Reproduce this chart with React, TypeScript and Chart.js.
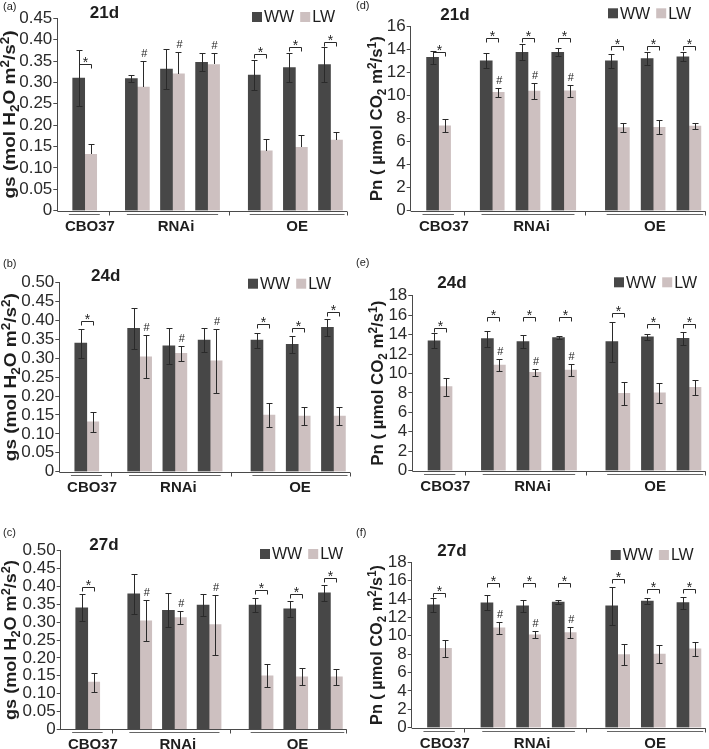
import React, { useEffect, useRef } from 'react';
import { Chart, registerables } from 'chart.js';

Chart.register(...registerables);

const FONT = '"Liberation Sans", Arial, Helvetica, sans-serif';

// ---------- data ----------
const groups = ['CBO37', 'RNAi', 'OE'];
const series = ['WW', 'LW'];
const lines = ['CBO37', 'RNAi-1', 'RNAi-2', 'RNAi-3', 'OE-1', 'OE-2', 'OE-3'];

// gs, 21 d
const gs21WW = [0.31, 0.309, 0.331, 0.347, 0.317, 0.335, 0.342];
const gs21WWErr = [0.066, 0.008, 0.047, 0.021, 0.035, 0.034, 0.042];
const gs21LW = [0.132, 0.289, 0.32, 0.342, 0.14, 0.148, 0.165];
const gs21LWErr = [0.023, 0.061, 0.051, 0.027, 0.027, 0.03, 0.02];
const gs21Star = [0.342, null, null, null, 0.367, 0.384, 0.395];

// gs, 24 d
const gs24WW = [0.34, 0.379, 0.333, 0.348, 0.348, 0.337, 0.382];
const gs24WWErr = [0.038, 0.055, 0.048, 0.032, 0.02, 0.023, 0.022];
const gs24LW = [0.132, 0.304, 0.313, 0.293, 0.15, 0.147, 0.147];
const gs24LWErr = [0.027, 0.057, 0.019, 0.084, 0.032, 0.024, 0.023];
const gs24Star = [0.399, null, null, null, 0.391, 0.379, 0.423];

// gs, 27 d
const gs27WW = [0.34, 0.379, 0.333, 0.348, 0.348, 0.337, 0.382];
const gs27WWErr = [0.038, 0.055, 0.048, 0.032, 0.02, 0.023, 0.022];
const gs27LW = [0.132, 0.304, 0.313, 0.293, 0.15, 0.147, 0.147];
const gs27LWErr = [0.027, 0.057, 0.019, 0.084, 0.032, 0.024, 0.023];
const gs27Star = [0.399, null, null, null, 0.391, 0.379, 0.423];

// Pn, 21 d
const pn21WW = [13.33, 13.04, 13.77, 13.77, 13.04, 13.22, 13.39];
const pn21WWErr = [0.58, 0.63, 0.7, 0.35, 0.6, 0.55, 0.4];
const pn21LW = [7.39, 10.29, 10.41, 10.43, 7.22, 7.25, 7.36];
const pn21LWErr = [0.58, 0.42, 0.68, 0.5, 0.38, 0.6, 0.29];
const pn21Star = [13.77, 15.04, 15.04, 15.04, 14.35, 14.35, 14.35];

// Pn, 24 d
const pn24WW = [13.37, 13.58, 13.27, 13.68, 13.27, 13.78, 13.61];
const pn24WWErr = [0.77, 0.82, 0.68, 0.17, 2.05, 0.3, 0.66];
const pn24LW = [8.64, 10.87, 10.11, 10.35, 7.95, 8.02, 8.57];
const pn24LWErr = [0.94, 0.63, 0.39, 0.63, 1.15, 1.03, 0.77];
const pn24Star = [14.64, 15.77, 15.77, 15.77, 16.18, 15.08, 15.08];

// Pn, 27 d
const pn27WW = [13.37, 13.58, 13.27, 13.68, 13.27, 13.78, 13.61];
const pn27WWErr = [0.77, 0.82, 0.68, 0.17, 2.05, 0.3, 0.66];
const pn27LW = [8.64, 10.87, 10.11, 10.35, 7.95, 8.02, 8.57];
const pn27LWErr = [0.94, 0.63, 0.39, 0.63, 1.15, 1.03, 0.77];
const pn27Star = [14.64, 15.77, 15.77, 15.77, 16.18, 15.08, 15.08];

// "#" marks above LW bars (RNAi lines)
const hashMarks = [false, true, true, true, false, false, false];

// ---------- layout (not data) ----------
const pairPos = [0, 1.5, 2.5, 3.5, 5, 6, 7];
const groupLabelPos = [0.15, 2.6, 6.05];
const groupLines = [[-0.45, 0.43], [1.2, 3.8], [4.7, 7.4]];
const groupSeparators = [0.7, 4.1];
const X_MIN = -0.78;
const X_MAX = 7.47;

const WW_COLOR = '#474747';
const LW_COLOR = '#cdc0c0';
const INK = '#1e1e1e';
const AXIS = '#4a4a4a';

type Seg = [string, 'n' | 'sub' | 'sup'];
const gsTitle: Seg[] = [['gs (mol H', 'n'], ['2', 'sub'], ['O m', 'n'], ['2', 'sup'], ['/s', 'n'], ['2', 'sup'], [')', 'n']];
const pnTitle: Seg[] = [['Pn ( µmol CO', 'n'], ['2', 'sub'], [' m', 'n'], ['2', 'sup'], ['/s', 'n'], ['1', 'sup'], [')', 'n']];

interface PanelCfg {
  label: string; day: string;
  left: number; top: number; w: number; h: number;
  L: number; T: number; R: number; B: number;
  yMax: number; yStep: number; decimals: number;
  title: Seg[]; titleLen: number; yTitleX: number;
  dayX: number; dayY: number; labelY: number;
  legX: number; legY: number;
  ww: number[]; wwErr: number[]; lw: number[]; lwErr: number[];
  star: (number | null)[]; lwLower: boolean;
}

const PANELS: PanelCfg[] = [
  { label: '(a)', day: '21d', left: 0, top: 0, w: 354, h: 248, L: 57.3, T: 18.3, R: 347, B: 210.7,
    yMax: 0.45, yStep: 0.05, decimals: 2, title: gsTitle, titleLen: 168, yTitleX: 15,
    dayX: 104.5, dayY: 13, labelY: 7, legX: 252, legY: 17,
    ww: gs21WW, wwErr: gs21WWErr, lw: gs21LW, lwErr: gs21LWErr, star: gs21Star, lwLower: false },
  { label: '(b)', day: '24d', left: 0, top: 248, w: 354, h: 250, L: 59.3, T: 282.7, R: 350, B: 471.7,
    yMax: 0.5, yStep: 0.05, decimals: 2, title: gsTitle, titleLen: 168, yTitleX: 16,
    dayX: 105.7, dayY: 276, labelY: 264, legX: 248, legY: 283.7,
    ww: gs24WW, wwErr: gs24WWErr, lw: gs24LW, lwErr: gs24LWErr, star: gs24Star, lwLower: true },
  { label: '(c)', day: '27d', left: 0, top: 498, w: 354, h: 251, L: 60.7, T: 550.7, R: 346.7, B: 729.3,
    yMax: 0.5, yStep: 0.05, decimals: 2, title: gsTitle, titleLen: 160, yTitleX: 16,
    dayX: 104, dayY: 545, labelY: 533, legX: 260, legY: 554,
    ww: gs27WW, wwErr: gs27WWErr, lw: gs27LW, lwErr: gs27LWErr, star: gs27Star, lwLower: true },
  { label: '(d)', day: '21d', left: 354, top: 0, w: 355, h: 248, L: 410.7, T: 26.7, R: 705.7, B: 210.7,
    yMax: 16, yStep: 2, decimals: 0, title: pnTitle, titleLen: 165, yTitleX: 382,
    dayX: 455, dayY: 15, labelY: 6, legX: 608, legY: 13.3,
    ww: pn21WW, wwErr: pn21WWErr, lw: pn21LW, lwErr: pn21LWErr, star: pn21Star, lwLower: true },
  { label: '(e)', day: '24d', left: 354, top: 248, w: 355, h: 250, L: 412.3, T: 295.7, R: 705.7, B: 470.7,
    yMax: 18, yStep: 2, decimals: 0, title: pnTitle, titleLen: 165, yTitleX: 382.5,
    dayX: 452, dayY: 283, labelY: 263, legX: 614, legY: 282.3,
    ww: pn24WW, wwErr: pn24WWErr, lw: pn24LW, lwErr: pn24LWErr, star: pn24Star, lwLower: true },
  { label: '(f)', day: '27d', left: 354, top: 498, w: 355, h: 251, L: 411.7, T: 562.3, R: 705.7, B: 727.7,
    yMax: 18, yStep: 2, decimals: 0, title: pnTitle, titleLen: 160, yTitleX: 382,
    dayX: 452, dayY: 551.7, labelY: 533, legX: 610.7, legY: 555,
    ww: pn27WW, wwErr: pn27WWErr, lw: pn27LW, lwErr: pn27LWErr, star: pn27Star, lwLower: true },
];

function Panel({ cfg }: { cfg: PanelCfg }) {
  const ref = useRef<HTMLCanvasElement | null>(null);

  useEffect(() => {
    const canvas = ref.current;
    if (!canvas) return;
    const ox = cfg.left;
    const oy = cfg.top;

    const overlay = {
      id: 'overlay' + cfg.label,
      afterDatasetsDraw(chart: any) {
        const ctx = chart.ctx as CanvasRenderingContext2D;
        const ys = chart.scales.y;
        const m0 = chart.getDatasetMeta(0);
        const m1 = chart.getDatasetMeta(1);
        ctx.save();
        ctx.strokeStyle = '#2a2a2a';
        ctx.lineWidth = 1;
        const drawErr = (meta: any, vals: number[], errs: number[], lower: boolean) => {
          vals.forEach((v, j) => {
            const el = meta.data[j];
            if (!el) return;
            const x = Math.round(el.x) + 0.5;
            const yt = Math.round(ys.getPixelForValue(v + errs[j])) + 0.5;
            const yb = lower ? Math.round(ys.getPixelForValue(v - errs[j])) + 0.5 : Math.round(el.y);
            ctx.beginPath();
            ctx.moveTo(x, yt); ctx.lineTo(x, yb);
            ctx.moveTo(x - 3, yt); ctx.lineTo(x + 3, yt);
            if (lower) { ctx.moveTo(x - 3, yb); ctx.lineTo(x + 3, yb); }
            ctx.stroke();
          });
        };
        drawErr(m0, cfg.ww, cfg.wwErr, true);
        drawErr(m1, cfg.lw, cfg.lwErr, cfg.lwLower);

        // significance brackets with *
        ctx.fillStyle = INK;
        cfg.star.forEach((s, j) => {
          if (s === null || s === undefined) return;
          const a = m0.data[j], b = m1.data[j];
          const y = Math.round(ys.getPixelForValue(s)) + 0.5;
          const x1 = Math.round(a.x) + 0.5, x2 = Math.round(b.x) + 0.5;
          ctx.beginPath();
          ctx.moveTo(x1, y + 4); ctx.lineTo(x1, y); ctx.lineTo(x2, y); ctx.lineTo(x2, y + 4);
          ctx.stroke();
          ctx.font = `14px ${FONT}`;
          ctx.textAlign = 'center';
          ctx.textBaseline = 'alphabetic';
          ctx.fillText('*', (x1 + x2) / 2, y + 2);
        });
        // # marks above LW bars
        hashMarks.forEach((h, j) => {
          if (!h) return;
          const b = m1.data[j];
          const yt = ys.getPixelForValue(cfg.lw[j] + cfg.lwErr[j]);
          ctx.font = `11px ${FONT}`;
          ctx.textAlign = 'center';
          ctx.textBaseline = 'alphabetic';
          ctx.fillText('#', b.x + 1, yt - 4);
        });
        ctx.restore();
      },
      afterDraw(chart: any) {
        const ctx = chart.ctx as CanvasRenderingContext2D;
        const xs = chart.scales.x;
        const ca = chart.chartArea;
        ctx.save();
        // x axis line and ticks
        ctx.strokeStyle = AXIS;
        ctx.lineWidth = 1;
        const yb = Math.round(ca.bottom) + 0.5;
        ctx.beginPath();
        ctx.moveTo(ca.left, yb); ctx.lineTo(ca.right, yb);
        [...groupSeparators.map((p) => xs.getPixelForValue(p)), ca.right - 0.5].forEach((px) => {
          const x = Math.round(px) + 0.5;
          ctx.moveTo(x, yb); ctx.lineTo(x, yb + 4);
        });
        ctx.stroke();
        // group underlines
        ctx.strokeStyle = '#666';
        ctx.beginPath();
        groupLines.forEach(([a, b]) => {
          const x1 = xs.getPixelForValue(a);
          const x2 = Math.min(xs.getPixelForValue(b), ca.right - 1);
          ctx.moveTo(x1, yb + 3); ctx.lineTo(x2, yb + 3);
        });
        ctx.stroke();
        // group labels
        ctx.fillStyle = INK;
        ctx.font = `bold 15px ${FONT}`;
        ctx.textAlign = 'center';
        ctx.textBaseline = 'middle';
        groups.forEach((g, i) => {
          ctx.fillText(g, xs.getPixelForValue(groupLabelPos[i]), ca.bottom + 16);
        });
        // panel label
        ctx.font = `11px ${FONT}`;
        ctx.textAlign = 'left';
        ctx.fillText(cfg.label, (cfg.left === 0 ? 3 : 356) - ox, cfg.labelY - oy);
        // day title
        ctx.font = `bold 17px ${FONT}`;
        ctx.textAlign = 'center';
        ctx.fillText(cfg.day, cfg.dayX - ox, cfg.dayY - oy);
        // legend
        ctx.font = `16px ${FONT}`;
        ctx.textAlign = 'left';
        let lx = cfg.legX - ox;
        const ly = cfg.legY - oy;
        series.forEach((s, i) => {
          ctx.fillStyle = i === 0 ? WW_COLOR : LW_COLOR;
          ctx.fillRect(lx, ly - 5, 10, 10);
          ctx.fillStyle = INK;
          ctx.fillText(s, lx + 12, ly + 1);
          lx += 12 + ctx.measureText(s).width + 6;
        });
        // y title with sub/superscripts
        const big = `bold 17px ${FONT}`;
        const small = `bold 12px ${FONT}`;
        let total = 0;
        const widths = cfg.title.map(([t, k]) => {
          ctx.font = k === 'n' ? big : small;
          const w = ctx.measureText(t).width;
          total += w;
          return w;
        });
        const k = cfg.titleLen / total;
        ctx.translate(cfg.yTitleX - ox, (ca.top + ca.bottom) / 2);
        ctx.rotate(-Math.PI / 2);
        ctx.scale(k, 1);
        ctx.textBaseline = 'alphabetic';
        ctx.textAlign = 'left';
        let tx = -total / 2;
        cfg.title.forEach(([t, kind], i) => {
          ctx.font = kind === 'n' ? big : small;
          const dy = kind === 'sub' ? 4 : kind === 'sup' ? -6 : 0;
          ctx.fillText(t, tx, dy);
          tx += widths[i];
        });
        ctx.restore();
      },
    };

    const chart = new Chart(canvas, {
      type: 'bar',
      data: {
        datasets: [
          { label: series[0], data: pairPos.map((x, i) => ({ x, y: cfg.ww[i] })), backgroundColor: WW_COLOR, borderWidth: 0, barThickness: 12 },
          { label: series[1], data: pairPos.map((x, i) => ({ x, y: cfg.lw[i] })), backgroundColor: LW_COLOR, borderWidth: 0, barThickness: 12 },
        ],
      },
      options: {
        responsive: false,
        maintainAspectRatio: false,
        animation: false,
        devicePixelRatio: 1,
        layout: {
          padding: {
            left: 0,
            top: cfg.T - cfg.top,
            right: cfg.left + cfg.w - cfg.R,
            bottom: cfg.top + cfg.h - cfg.B,
          },
        },
        plugins: { legend: { display: false }, tooltip: { enabled: false }, title: { display: false } },
        scales: {
          x: { type: 'linear', display: false, min: X_MIN, max: X_MAX, offset: false },
          y: {
            min: 0, max: cfg.yMax,
            afterFit: (scale: any) => { scale.width = cfg.L - cfg.left; },
            ticks: {
              stepSize: cfg.yStep,
              autoSkip: false,
              maxTicksLimit: 20,
              padding: 1,
              color: '#2a2a2a',
              font: { family: FONT, size: 17 },
              callback: (v: any) => (Number(v) === 0 ? '0' : Number(v).toFixed(cfg.decimals)),
            },
            grid: { display: true, drawOnChartArea: false, drawTicks: true, tickLength: 4, color: AXIS },
            border: { display: true, color: AXIS, width: 1 },
          },
        },
      } as any,
      plugins: [overlay],
    });
    return () => chart.destroy();
  }, [cfg]);

  return (
    <canvas
      ref={ref}
      width={cfg.w}
      height={cfg.h}
      style={{ position: 'absolute', left: cfg.left, top: cfg.top, width: cfg.w, height: cfg.h }}
    />
  );
}

export default function App() {
  return (
    <div style={{ position: 'absolute', left: 0, top: 0, width: 709, height: 749, background: '#fff' }}>
      {PANELS.map((p) => (
        <Panel key={p.label} cfg={p} />
      ))}
    </div>
  );
}
